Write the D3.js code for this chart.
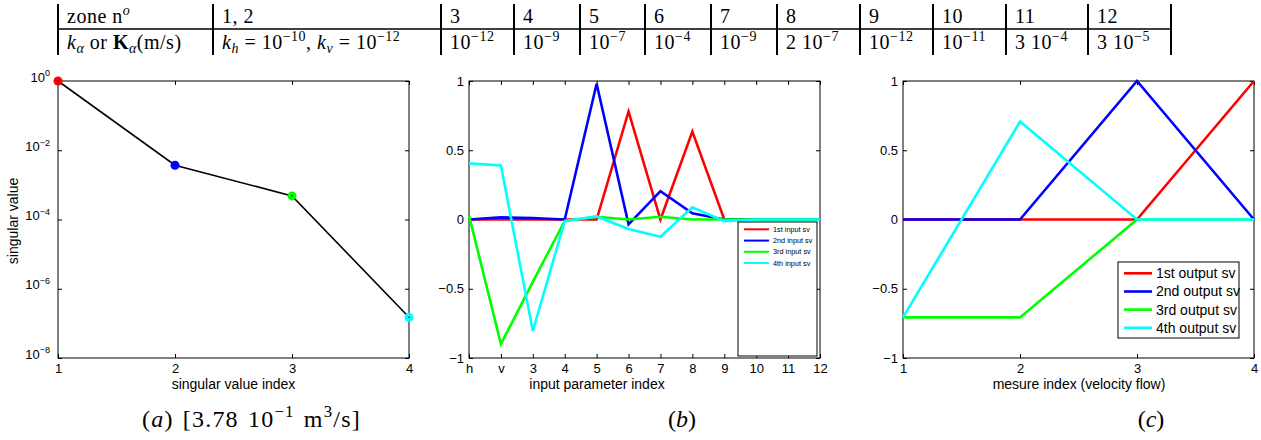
<!DOCTYPE html>
<html>
<head>
<meta charset="utf-8">
<script src="https://cdn.jsdelivr.net/npm/d3@7"></script>
<style>
  body { margin: 0; background: #fff; }
  svg { display: block; }
</style>
</head>
<body>
<script>
// ---- table at the top ----
const zoneLabels = ["1, 2", "3", "4", "5", "6", "7", "8", "9", "10", "11", "12"];
// zones 3..12 : [mantissa prefix, exponent]
const zoneK = [["", "−12"], ["", "−9"], ["", "−7"], ["", "−4"], ["", "−9"],
               ["2 ", "−7"], ["", "−12"], ["", "−11"], ["3 ", "−4"], ["3 ", "−5"]];

// ---- (a) singular values ----
const svIndex = [1, 2, 3, 4];
const svValues = [1, 3.7e-3, 4.8e-4, 1.5e-7];
const svColors = ["#ff0000", "#0000ff", "#00ff00", "#00ffff"];
const svExpTicks = [0, -2, -4, -6, -8];

// ---- (b) input singular vectors ----
const inputLabels = ["h", "v", "3", "4", "5", "6", "7", "8", "9", "10", "11", "12"];
const inputSv1 = [0, 0, 0, 0, 0, 0.78, 0, 0.635, 0, 0, 0, 0];
const inputSv2 = [0, 0.015, 0.01, 0, 0.98, -0.035, 0.205, 0.045, 0, 0, 0, 0];
const inputSv3 = [0.03, -0.9, -0.45, -0.01, 0.02, 0, 0.02, 0, 0, 0, 0, 0];
const inputSv4 = [0.405, 0.39, -0.805, -0.012, 0.022, -0.068, -0.125, 0.088, -0.012, 0, 0, 0];
const inputNames = ["1st input sv", "2nd input sv", "3rd input sv", "4th input sv"];

// ---- (c) output singular vectors ----
const measureIndex = [1, 2, 3, 4];
const outputSv1 = [0, 0, 0, 1];
const outputSv2 = [0, 0, 1, 0];
const outputSv3 = [-0.707, -0.707, 0, 0];
const outputSv4 = [-0.707, 0.707, 0, 0];
const outputNames = ["1st output sv", "2nd output sv", "3rd output sv", "4th output sv"];

const linTicks = [-1, -0.5, 0, 0.5, 1];
const W = 1261, H = 440;
const sans = "'Liberation Sans', Arial, sans-serif";
const serif = "'Liberation Serif', 'Times New Roman', serif";

const svg = d3.select("body").append("svg")
  .attr("width", W).attr("height", H)
  .attr("viewBox", [0, 0, W, H]);

// rich text: parts = [{t, i, b, s:'sup'|'sub'}]
function rich(text, parts, fs) {
  let cur = 0;
  parts.forEach(p => {
    let target = p.s === "sup" ? -0.4 * fs : p.s === "sub" ? 0.22 * fs : 0;
    let ts = text.append("tspan")
      .attr("dy", target - cur)
      .attr("font-size", p.s ? fs * 0.7 : fs)
      .text(p.t);
    if (p.i) ts.attr("font-style", "italic");
    if (p.b) ts.attr("font-weight", "bold");
    cur = target;
  });
}

// ---------- table ----------
const edges = [58, 213, 441, 514, 580, 645, 711, 777, 860, 933, 1006, 1088, 1171];
const tfs = 20;
const tab = svg.append("g").attr("font-family", serif).attr("font-size", tfs)
  .attr("letter-spacing", 0.5).attr("fill", "#000");

tab.selectAll("line.v")
  .data(edges)
  .join("line")
  .attr("class", "v")
  .attr("x1", d => d).attr("x2", d => d)
  .attr("y1", 4).attr("y2", 55)
  .attr("stroke", "#000").attr("stroke-width", 2);

tab.append("line")
  .attr("x1", edges[0]).attr("x2", edges[edges.length - 1])
  .attr("y1", 29).attr("y2", 29)
  .attr("stroke", "#000").attr("stroke-width", 1.6);

const pad = 9, row1 = 23, row2 = 49;

rich(tab.append("text").attr("x", edges[0] + pad).attr("y", row1),
  [{t: "zone n"}, {t: "o", i: true, s: "sup"}], tfs);

tab.selectAll("text.zone")
  .data(zoneLabels)
  .join("text")
  .attr("class", "zone")
  .attr("x", (d, i) => edges[i + 1] + pad)
  .attr("y", row1)
  .text(d => d);

rich(tab.append("text").attr("x", edges[0] + pad).attr("y", row2),
  [{t: "k", i: true}, {t: "α", i: true, s: "sub"}, {t: " or "}, {t: "K", b: true},
   {t: "α", i: true, s: "sub"}, {t: "(m/s)"}], tfs);

rich(tab.append("text").attr("x", edges[1] + pad).attr("y", row2),
  [{t: "k", i: true}, {t: "h", i: true, s: "sub"}, {t: " = 10"}, {t: "−10", s: "sup"},
   {t: ", "}, {t: "k", i: true}, {t: "v", i: true, s: "sub"}, {t: " = 10"}, {t: "−12", s: "sup"}], tfs);

zoneK.forEach((k, i) => {
  rich(tab.append("text").attr("x", edges[i + 2] + pad).attr("y", row2),
    [{t: k[0] + "10"}, {t: k[1], s: "sup"}], tfs);
});

// ---------- helpers for the plots ----------
const plotTop = 81, plotBottom = 358;

function frame(g, x0, x1) {
  g.append("rect")
    .attr("x", x0).attr("y", plotTop)
    .attr("width", x1 - x0).attr("height", plotBottom - plotTop)
    .attr("fill", "none").attr("stroke", "#000").attr("stroke-width", 1);
}

function axes(g, x, y, xVals, yVals, xFmt, yFmt) {
  const [x0, x1] = [x.range()[0], x.range()[x.range().length - 1]];
  const gb = g.append("g").attr("transform", `translate(0,${plotBottom})`)
    .call(d3.axisBottom(x).tickValues(xVals).tickSize(-4).tickPadding(6).tickFormat(xFmt));
  g.append("g").attr("transform", `translate(0,${plotTop})`)
    .call(d3.axisTop(x).tickValues(xVals).tickSize(-4).tickFormat(""));
  const gl = g.append("g").attr("transform", `translate(${x0},0)`)
    .call(d3.axisLeft(y).tickValues(yVals).tickSize(-4).tickPadding(5).tickFormat(yFmt));
  g.append("g").attr("transform", `translate(${x1},0)`)
    .call(d3.axisRight(y).tickValues(yVals).tickSize(-4).tickFormat(""));
  g.selectAll(".domain").remove();
  g.selectAll(".tick line").attr("stroke", "#000");
  g.selectAll("g").attr("font-family", sans).attr("font-size", 13);
  g.selectAll(".tick text").attr("fill", "#000");
  return {gb, gl};
}

function xLabel(g, cx, txt) {
  g.append("text")
    .attr("x", cx).attr("y", 389)
    .attr("text-anchor", "middle")
    .attr("font-family", sans).attr("font-size", 14)
    .text(txt);
}

function legend(g, names, colors, box, fs, lineLen, rows) {
  const lg = g.append("g");
  lg.append("rect")
    .attr("x", box[0]).attr("y", box[1])
    .attr("width", box[2] - box[0]).attr("height", box[3] - box[1])
    .attr("fill", "#fff").attr("stroke", "#000").attr("stroke-width", 1);
  const it = lg.selectAll("g").data(names).join("g")
    .attr("transform", (d, i) => `translate(${box[0] + 6},${rows[i]})`);
  it.append("line")
    .attr("x1", 0).attr("x2", lineLen)
    .attr("stroke", (d, i) => colors[i]).attr("stroke-width", fs > 10 ? 2.6 : 2);
  it.append("text")
    .attr("x", lineLen + 4).attr("dy", "0.35em")
    .attr("font-family", sans).attr("font-size", fs)
    .attr("fill", "#000")
    .text(d => d);
}

const lineColors = svColors;

// ---------- (a) ----------
const ga = svg.append("g");
const xa = d3.scaleLinear().domain([1, 4]).range([58, 409]);
const ya = d3.scaleLog().domain([1e-8, 1]).range([plotBottom, plotTop]);
frame(ga, 58, 409);
const aAx = axes(ga, xa, ya, svIndex, svExpTicks.map(e => Math.pow(10, e)), d3.format("d"), () => "");
aAx.gl.selectAll(".tick text").each(function(d) {
  const t = d3.select(this).attr("x", -8).attr("dy", "0.4em");
  const e = Math.round(Math.log10(d));
  rich(t, [{t: "10"}, {t: e < 0 ? "−" + (-e) : String(e), s: "sup"}], 13);
});
ga.append("text")
  .attr("transform", "translate(18,221) rotate(-90)")
  .attr("text-anchor", "middle")
  .attr("font-family", sans).attr("font-size", 14)
  .text("singular value");
xLabel(ga, 233.5, "singular value index");

const svPts = svIndex.map((d, i) => ({x: d, y: svValues[i]}));
ga.append("path")
  .datum(svPts)
  .attr("fill", "none").attr("stroke", "#000").attr("stroke-width", 1.6)
  .attr("d", d3.line().x(d => xa(d.x)).y(d => ya(d.y)));
ga.selectAll("circle.m").data(svPts).join("circle")
  .attr("class", "m")
  .attr("cx", d => xa(d.x)).attr("cy", d => ya(d.y))
  .attr("r", 4.5).attr("fill", (d, i) => svColors[i]);
ga.selectAll("circle.c").data(svPts).join("circle")
  .attr("class", "c")
  .attr("cx", d => xa(d.x)).attr("cy", d => ya(d.y))
  .attr("r", 0.8).attr("fill", "#000");

const linFmt = d => (d < 0 ? "−" : "") + Math.abs(d);

// ---------- (b) ----------
const gbp = svg.append("g");
const xb = d3.scalePoint().domain(inputLabels).range([469, 820]);
const yb = d3.scaleLinear().domain([-1, 1]).range([plotBottom, plotTop]);
frame(gbp, 469, 820);
axes(gbp, xb, yb, inputLabels, linTicks, d => d, linFmt);
xLabel(gbp, 597, "input parameter index");
const inputSeries = [inputSv1, inputSv2, inputSv3, inputSv4];
gbp.selectAll("path.s").data(inputSeries).join("path")
  .attr("class", "s")
  .attr("fill", "none")
  .attr("stroke", (d, i) => lineColors[i])
  .attr("stroke-width", 2.6)
  .attr("stroke-linejoin", "miter")
  .attr("d", d3.line().x((v, j) => xb(inputLabels[j])).y(v => yb(v)));
legend(gbp, inputNames, lineColors, [738, 222, 817, 356], 7.3, 25, [229.3, 240.6, 251.8, 263]);

// ---------- (c) ----------
const gc = svg.append("g");
const xc = d3.scaleLinear().domain([1, 4]).range([903, 1254]);
const yc = d3.scaleLinear().domain([-1, 1]).range([plotBottom, plotTop]);
frame(gc, 903, 1254);
axes(gc, xc, yc, measureIndex, linTicks, d3.format("d"), linFmt);
xLabel(gc, 1079, "mesure index (velocity flow)");
const outputSeries = [outputSv1, outputSv2, outputSv3, outputSv4];
gc.selectAll("path.s").data(outputSeries).join("path")
  .attr("class", "s")
  .attr("fill", "none")
  .attr("stroke", (d, i) => lineColors[i])
  .attr("stroke-width", 2.6)
  .attr("d", d3.line().x((v, j) => xc(measureIndex[j])).y(v => yc(v)));
legend(gc, outputNames, lineColors, [1118, 262, 1239, 338], 14, 28, [273.3, 291.5, 309.6, 327.8]);

// ---------- captions ----------
const cfs = 24;
const capA = svg.append("text").attr("x", 142).attr("y", 427)
  .attr("font-family", serif).attr("font-size", cfs)
  .attr("letter-spacing", 1.2).attr("word-spacing", 2);
rich(capA, [{t: "("}, {t: "a", i: true}, {t: ") [3.78 10"}, {t: "−1", s: "sup"},
  {t: " m"}, {t: "3", s: "sup"}, {t: "/s]"}], cfs);
const capB = svg.append("text").attr("x", 682).attr("y", 427).attr("text-anchor", "middle")
  .attr("font-family", serif).attr("font-size", cfs);
rich(capB, [{t: "("}, {t: "b", i: true}, {t: ")"}], cfs);
const capC = svg.append("text").attr("x", 1151).attr("y", 427).attr("text-anchor", "middle")
  .attr("font-family", serif).attr("font-size", cfs);
rich(capC, [{t: "("}, {t: "c", i: true}, {t: ")"}], cfs);
</script>
</body>
</html>
